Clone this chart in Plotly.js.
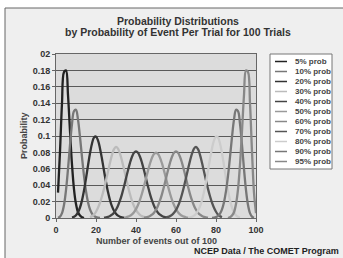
<!DOCTYPE html>
<html>
<head>
<meta charset="utf-8">
<script src="https://cdn.plot.ly/plotly-3.0.1.min.js"></script>
<style>html,body{margin:0;padding:0;background:#fff;}#chart{width:343px;height:258px;}</style>
</head>
<body>
<div id="chart"></div>
<script>
// Series: names, first k value, probabilities
const seriesNames = ["5% prob","10% prob","20% prob","30% prob","40% prob","50% prob","60% prob","70% prob","80% prob","90% prob","95% prob"];
const seriesColors = ["#222222","#777777","#333333","#bbbbbb","#444444","#9a9a9a","#888888","#555555","#cccccc","#777777","#888888"];
const startK = [1, 1, 8, 17, 24, 34, 44, 55, 66, 78, 86];
const p05 = [0.031,0.081,0.140,0.178,0.180,0.150,0.106,0.065,0.035,0.017,0.007,0.003,0.001,0.000];
const p10 = [0.0003,0.0016,0.0059,0.0159,0.0339,0.0596,0.0889,0.1149,0.1304,0.1319,0.1199,0.0988,0.0743,0.0513,0.0327,0.0193,0.0106,0.0054,0.0026,0.0012,0.0005,0.0002];
const p20 = [0.0006,0.0015,0.0034,0.0069,0.0128,0.0215,0.0335,0.0481,0.0640,0.0789,0.0909,0.0981,0.0993,0.0946,0.0849,0.0720,0.0577,0.0439,0.0316,0.0217,0.0141,0.0088,0.0052,0.0029,0.0016,0.0008,0.0004];
const p30 = [0.0011,0.0022,0.0041,0.0076,0.0124,0.0187,0.0265,0.0355,0.0458,0.0566,0.0673,0.0770,0.0840,0.0868,0.0845,0.0785,0.0697,0.0595,0.0488,0.0384,0.0290,0.0210,0.0146,0.0098,0.0063,0.0039,0.0023,0.0013,0.0007];
const p40 = [0.0004,0.0008,0.0014,0.0024,0.0040,0.0065,0.0101,0.0150,0.0214,0.0292,0.0383,0.0483,0.0582,0.0673,0.0747,0.0795,0.0812,0.0795,0.0747,0.0673,0.0582,0.0483,0.0383,0.0292,0.0214,0.0150,0.0101,0.0065,0.0040,0.0024,0.0014,0.0008,0.0004];
const p50 = [0.0005,0.0009,0.0016,0.0027,0.0045,0.0071,0.0108,0.0158,0.0221,0.0299,0.0388,0.0483,0.0578,0.0665,0.0735,0.0780,0.0796,0.0780,0.0735,0.0665,0.0578,0.0483,0.0388,0.0299,0.0221,0.0158,0.0108,0.0071,0.0045,0.0027,0.0016,0.0009,0.0005];
const p60 = [0.0004,0.0008,0.0014,0.0024,0.0040,0.0065,0.0101,0.0150,0.0214,0.0292,0.0383,0.0483,0.0582,0.0673,0.0747,0.0795,0.0812,0.0795,0.0747,0.0673,0.0582,0.0483,0.0383,0.0292,0.0214,0.0150,0.0101,0.0065,0.0040,0.0024,0.0014,0.0008,0.0004];
const p70 = [0.0007,0.0013,0.0023,0.0039,0.0063,0.0098,0.0146,0.0210,0.0290,0.0384,0.0488,0.0595,0.0697,0.0785,0.0845,0.0868,0.0840,0.0770,0.0673,0.0566,0.0458,0.0355,0.0265,0.0187,0.0124,0.0076,0.0041,0.0022,0.0011];
const p80 = [0.0004,0.0008,0.0016,0.0029,0.0052,0.0088,0.0141,0.0217,0.0316,0.0439,0.0577,0.0720,0.0849,0.0946,0.0993,0.0981,0.0909,0.0789,0.0640,0.0481,0.0335,0.0215,0.0128,0.0069,0.0034,0.0015,0.0006];
const p90 = [0.0002,0.0005,0.0012,0.0026,0.0054,0.0106,0.0193,0.0327,0.0513,0.0743,0.0988,0.1199,0.1319,0.1304,0.1149,0.0889,0.0596,0.0339,0.0159,0.0059,0.0016,0.0003];
const p95 = [0.000,0.001,0.003,0.007,0.017,0.035,0.065,0.106,0.150,0.180,0.178,0.140,0.081,0.031,0.0059];
const seriesValues = [p05,p10,p20,p30,p40,p50,p60,p70,p80,p90,p95];

const yTickVals = [0,0.02,0.04,0.06,0.08,0.1,0.12,0.14,0.16,0.18,0.2];
const yTickText = ["0","0.02","0.04","0.06","0.08","0.1","0.12","0.14","0.16","0.18","02"];
const xTickVals = [0,20,40,60,80,100];
const titleLines = ["Probability Distributions", "by Probability of Event Per Trial for 100 Trials"];

const FONT = "Liberation Sans, Arial, sans-serif";

// pixel geometry of the plot area
const L = 56, R = 256, T = 54, B = 218, W = 343, H = 258;
const px = v => (v - L) / (R - L);
const py = v => (B - v) / (B - T);

const traces = seriesValues.map((vals, i) => ({
  type: "scatter", mode: "lines", name: seriesNames[i],
  x: vals.map((_, j) => startK[i] + j), y: vals,
  line: {color: seriesColors[i], width: 2.3, shape: "spline", smoothing: 1},
  showlegend: false, hoverinfo: "skip"
}));

const shapes = [
  {type:"rect", xref:"paper", yref:"paper", x0:px(5), x1:px(350), y0:py(8), y1:py(265),
   fillcolor:"#efefef", line:{color:"#666", width:1}, layer:"below"},
  {type:"rect", xref:"x", yref:"y", x0:0, x1:100, y0:0, y1:0.2,
   fillcolor:"#dcdcdc", line:{width:0}, layer:"below"},
  // legend box
  {type:"rect", xref:"paper", yref:"paper", x0:px(270), x1:px(332), y0:py(54), y1:py(169),
   fillcolor:"#ffffff", line:{color:"#777", width:1}, layer:"above"}
];
const annotations = [];
seriesNames.forEach((n, i) => {
  const yy = 61.5 + i * 10;
  shapes.push({type:"line", xref:"paper", yref:"paper", x0:px(275), x1:px(287), y0:py(yy), y1:py(yy),
    line:{color:seriesColors[i], width:1.5}, layer:"above"});
  annotations.push({xref:"paper", yref:"paper", x:px(292.5), y:py(yy), xanchor:"left", yanchor:"middle",
    text:n, showarrow:false, font:{family:FONT, size:8, color:"#444", weight:"bold"}});
});
annotations.push(
  {xref:"paper", yref:"paper", x:px(177.5), y:py(20.7), text:titleLines[0], showarrow:false,
   xanchor:"center", yanchor:"middle", font:{family:FONT, size:10.5, color:"#333", weight:"bold"}},
  {xref:"paper", yref:"paper", x:px(178), y:py(32.3), text:titleLines[1], showarrow:false,
   xanchor:"center", yanchor:"middle", font:{family:FONT, size:10.5, color:"#333", weight:"bold"}},
  {xref:"paper", yref:"paper", x:px(24), y:py(136), textangle:-90, text:"Probability", showarrow:false,
   xanchor:"center", yanchor:"middle", font:{family:FONT, size:9, color:"#444", weight:"bold"}},
  {xref:"paper", yref:"paper", x:px(156), y:py(240.5), text:"Number of events out of 100", showarrow:false,
   xanchor:"center", yanchor:"middle", font:{family:FONT, size:9, color:"#444", weight:"bold"}},
  {xref:"paper", yref:"paper", x:px(341), y:py(250.5), text:"NCEP Data / The COMET Program", showarrow:false,
   xanchor:"right", yanchor:"middle", font:{family:FONT, size:9, color:"#222", weight:"bold"}}
);

const layout = {
  width: W, height: H,
  margin: {l: L, r: W - R, t: T, b: H - B, pad: 0},
  paper_bgcolor: "#ffffff", plot_bgcolor: "rgba(0,0,0,0)",
  xaxis: {range: [0, 100], tickvals: xTickVals, ticks: "outside", ticklen: 3, tickcolor: "#666",
    showgrid: false, zeroline: false, showline: true, linecolor: "#666", mirror: true,
    tickfont: {family: FONT, size: 9, color: "#333", weight: "bold"}, fixedrange: true},
  yaxis: {range: [0, 0.2], tickvals: yTickVals, ticktext: yTickText, ticks: "outside", ticklen: 3, tickcolor: "#666",
    showgrid: true, gridcolor: "#5a5a5a", gridwidth: 1, zeroline: false, showline: true, linecolor: "#666", mirror: true,
    tickfont: {family: FONT, size: 9, color: "#333", weight: "bold"}, fixedrange: true},
  shapes: shapes, annotations: annotations, showlegend: false
};

Plotly.newPlot("chart", traces, layout, {staticPlot: true, displayModeBar: false});
</script>
</body>
</html>
